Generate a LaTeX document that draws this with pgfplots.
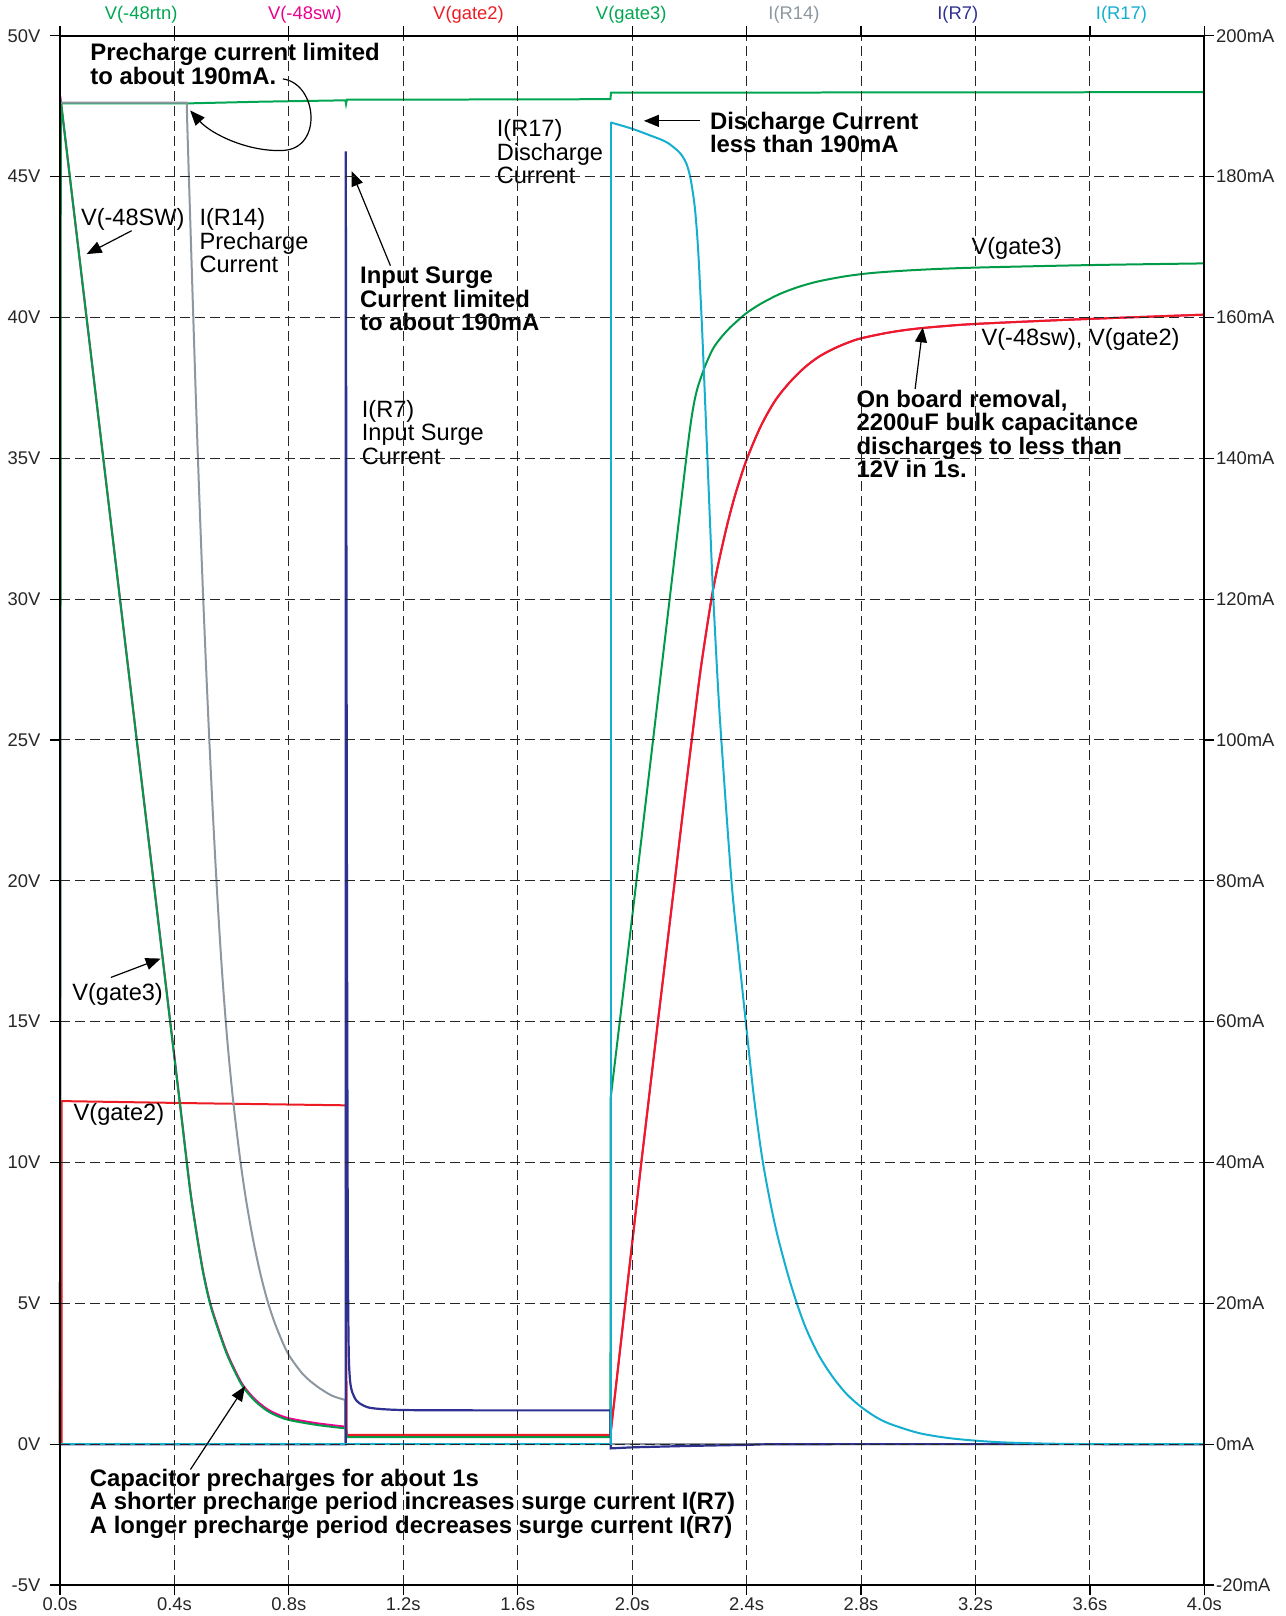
\documentclass[border=0pt]{standalone}
\usepackage{fontspec}
\setmainfont{Liberation Sans}
\usepackage{pgfplots}
\pgfplotsset{compat=1.18}
\usetikzlibrary{arrows.meta}
\definecolor{cRtn}{HTML}{00A651}
\definecolor{cSw}{HTML}{EC008C}
\definecolor{cG2}{HTML}{ED1C24}
\definecolor{cG3}{HTML}{009B48}
\definecolor{cR14}{HTML}{8E979F}
\definecolor{cR7}{HTML}{2E3192}
\definecolor{cR17}{HTML}{14AFCF}
\newcommand\ann{\fontsize{11.8}{11.75}\selectfont}
\newcommand\annb{\fontsize{11.95}{11.75}\selectfont\bfseries}
\newcommand\lab{\fontsize{9.2}{11}\selectfont}
\tikzset{arr/.style={-{Triangle[length=7.5pt,width=6pt]}, line width=0.6pt, black},
         txt/.style={anchor=base west, inner sep=0pt, text=black}}
\pgfplotsset{
  sw/.style={cSw, line width=1pt},
  g2/.style={cG2, line width=1pt},
  g3/.style={cG3, line width=1pt},
  r14/.style={cR14, line width=1pt, y filter/.expression={y/4}},
  r7/.style={cR7, line width=1.1pt, y filter/.expression={y/4}},
  r17/.style={cR17, line width=1pt, y filter/.expression={y/4}},
}
\begin{document}
\begin{tikzpicture}
\begin{axis}[
  scale only axis, width=572.5pt, height=775pt,
  xmin=0, xmax=4, ymin=-5, ymax=50,
  xtick={0,0.4,0.8,1.2,1.6,2.0,2.4,2.8,3.2,3.6,4.0},
  xticklabels={0.0s,0.4s,0.8s,1.2s,1.6s,2.0s,2.4s,2.8s,3.2s,3.6s,4.0s},
  ytick={-5,0,5,10,15,20,25,30,35,40,45,50},
  yticklabels={-5V,0V,5V,10V,15V,20V,25V,30V,35V,40V,45V,50V},
  xtick pos=both, xticklabel pos=lower, ytick pos=left,
  tick align=outside, major tick length=5pt,
  grid=major,
  major grid style={dash pattern=on 5pt off 2.5pt, line width=0.5pt, black!85},
  axis line style={line width=1pt, black},
  tick style={line width=0.6pt, black},
  tick label style={font=\lab, text=black!85},
  yticklabel style={xshift=-1.3pt},
  xticklabel style={inner sep=1pt},
  axis on top, clip=false,
]
% V(-48rtn)
\addplot[cRtn, line width=1pt] coordinates {
(0,0) (0.001,47.6) (0.445,47.6) (0.7,47.66) (0.998,47.71) (1.0,47.58) (1.003,47.73)
(1.5,47.74) (1.924,47.75) (1.926,47.98) (4.0,48.0)};
% V(-48sw)
\addplot[sw] coordinates {(0,0) (0.001,47.85) (0.43,11.2)};
\addplot[sw, smooth] coordinates {
(0.43,11.2) (0.455,9.05) (0.477,7.55) (0.50,6.16) (0.524,5.06) (0.55,4.21) (0.582,3.29)
(0.61,2.66) (0.64,2.09) (0.68,1.61) (0.722,1.26) (0.76,1.06) (0.804,0.91) (0.9,0.74) (0.999,0.62)};
\addplot[sw] coordinates {(0.999,0.62) (1.003,0.32) (1.924,0.32) (1.985,5.8) (2.032,10) (2.09,15) (2.149,20)};
\addplot[sw, smooth] coordinates {
(2.149,20) (2.178,22.5) (2.207,24.9) (2.24,27.55) (2.277,30) (2.30,31.2) (2.33,32.55)
(2.36,33.7) (2.40,34.95) (2.45,36.15) (2.50,37.05) (2.55,37.69) (2.60,38.2) (2.65,38.59)
(2.70,38.87) (2.75,39.09) (2.80,39.26) (2.90,39.47) (3.0,39.61) (3.15,39.74) (3.3,39.82)
(3.6,39.95) (4.0,40.1)};
% V(gate2)
\addplot[g2] coordinates {
(0,0) (0.006,0) (0.006,12.18) (0.5,12.1) (0.999,12.03) (1.002,0.33) (1.924,0.33)
(1.985,5.8) (2.032,10) (2.09,15) (2.149,20)};
\addplot[g2, smooth] coordinates {
(2.149,20) (2.178,22.5) (2.207,24.9) (2.24,27.55) (2.277,30) (2.30,31.2) (2.33,32.55)
(2.36,33.7) (2.40,34.95) (2.45,36.15) (2.50,37.05) (2.55,37.69) (2.60,38.2) (2.65,38.59)
(2.70,38.87) (2.75,39.09) (2.80,39.26) (2.90,39.47) (3.0,39.61) (3.15,39.74) (3.3,39.82)
(3.6,39.95) (4.0,40.1)};
% V(gate3)
\addplot[g3] coordinates {(0,0) (0.003,47.7) (0.43,11.15)};
\addplot[g3, smooth] coordinates {
(0.43,11.15) (0.455,9.0) (0.477,7.49) (0.50,6.1) (0.524,5.0) (0.55,4.15) (0.582,3.23)
(0.61,2.6) (0.64,2.03) (0.68,1.55) (0.722,1.2) (0.76,1.0) (0.804,0.85) (0.9,0.68) (0.999,0.56)};
\addplot[g3] coordinates {(0.999,0.56) (1.003,0.25) (1.924,0.25) (1.925,12.3) (2.015,20)
(2.073,25) (2.131,30) (2.189,35)};
\addplot[g3, smooth] coordinates {
(2.189,35) (2.2,35.9) (2.21,36.6) (2.22,37.15) (2.23,37.55) (2.245,38.0) (2.26,38.4)
(2.283,38.9) (2.31,39.28) (2.341,39.63) (2.37,39.9) (2.40,40.16) (2.45,40.49) (2.515,40.83)
(2.58,41.08) (2.65,41.28) (2.75,41.47) (2.85,41.59) (3.0,41.69) (3.2,41.77) (3.6,41.86) (4.0,41.92)};
% I(R14) in mA
\addplot[r14] coordinates {(0,0) (0.001,190.5) (0.443,190.5) (0.446,186)};
\addplot[r14, smooth] coordinates {
(0.446,186) (0.466,160) (0.478,145) (0.489,132.4) (0.50,120.8) (0.51,111) (0.52,101.8)
(0.53,93.2) (0.54,85.2) (0.55,77.8) (0.56,71.1) (0.57,65.1) (0.585,57.3) (0.605,48.9)
(0.629,40.7) (0.65,34.8) (0.675,29.05) (0.70,24.3) (0.725,20.4) (0.75,17.3) (0.78,14.3)
(0.804,12.4) (0.85,9.9) (0.897,8.25) (0.95,6.9) (0.996,6.3)};
\addplot[r14] coordinates {(0.996,6.3) (0.998,0) (4.0,0)};
% I(R7) in mA
\addplot[r7] coordinates {(0,0) (0.999,0) (0.999,183.6) (1.003,80)};
\addplot[r7, smooth] coordinates {
(1.003,80) (1.006,30) (1.009,14) (1.013,9.5) (1.02,7.6) (1.036,6.2) (1.06,5.5)
(1.094,5.1) (1.2,4.85) (1.5,4.8) (1.924,4.8)};
\addplot[r7] coordinates {(1.924,4.8) (1.925,-0.6) (2.0,-0.45)};
\addplot[r7, smooth] coordinates {(2.0,-0.45) (2.2,-0.25) (2.4,-0.1) (2.6,0) (4.0,0)};
% I(R17) in mA
\addplot[r17] coordinates {(0,0) (1.925,0) (1.925,187.7)};
\addplot[r17, smooth] coordinates {
(1.925,187.7) (2.0,186.8) (2.06,185.9) (2.12,184.9) (2.166,183.4) (2.19,181.8)
(2.205,179.5) (2.219,175.6) (2.23,170) (2.242,160.5) (2.252,151) (2.262,141) (2.272,131)
(2.282,121.5) (2.30,107.5) (2.315,98) (2.347,80) (2.37,70.5) (2.397,60) (2.425,49.5)
(2.457,40) (2.50,31) (2.55,23.3) (2.60,17.2) (2.65,12.8) (2.70,9.6) (2.75,7.1) (2.80,5.3)
(2.85,3.9) (2.90,2.9) (3.0,1.6) (3.1,0.9) (3.2,0.5) (3.3,0.25) (3.45,0.08) (3.6,0)};
\addplot[r17] coordinates {(3.6,0) (4.0,0)};

% top series names
\node[font=\lab, text=cRtn, yshift=10.3pt] at (rel axis cs:0.0709,1) {V(-48rtn)};
\node[font=\lab, text=cSw,  yshift=10.3pt] at (rel axis cs:0.2140,1) {V(-48sw)};
\node[font=\lab, text=cG2,  yshift=10.3pt] at (rel axis cs:0.3570,1) {V(gate2)};
\node[font=\lab, text=cRtn, yshift=10.3pt] at (rel axis cs:0.4992,1) {V(gate3)};
\node[font=\lab, text=cR14, yshift=10.3pt] at (rel axis cs:0.6414,1) {I(R14)};
\node[font=\lab, text=cR7,  yshift=10.3pt] at (rel axis cs:0.7845,1) {I(R7)};
\node[font=\lab, text=cR17, yshift=10.3pt] at (rel axis cs:0.9276,1) {I(R17)};

% annotations
\node[txt, font=\annb] at (axis cs:0.1048,49.11) {\vtop{\hbox{Precharge current limited}\hbox{to about 190mA.}}};
\draw[arr] (axis cs:0.779,48.47) .. controls (axis cs:0.90,48.3) and (axis cs:0.92,46.0) .. (axis cs:0.78,45.93)
   .. controls (axis cs:0.66,45.87) and (axis cs:0.53,46.5) .. (axis cs:0.455,47.35);
\node[txt, font=\ann] at (axis cs:0.0723,43.26) {V(-48SW)};
\draw[arr] (axis cs:0.2505,43.08) -- (axis cs:0.0932,42.25);
\node[txt, font=\ann] at (axis cs:0.4866,43.26) {\vtop{\hbox{I(R14)}\hbox{Precharge}\hbox{Current}}};
\node[txt, font=\annb] at (axis cs:1.048,41.19) {\vtop{\hbox{Input Surge}\hbox{Current limited}\hbox{to about 190mA}}};
\draw[arr] (axis cs:1.155,41.84) -- (axis cs:1.019,45.2);
\node[txt, font=\ann] at (axis cs:1.5256,46.42) {\vtop{\hbox{I(R17)}\hbox{Discharge}\hbox{Current}}};
\node[txt, font=\annb] at (axis cs:2.2707,46.69) {\vtop{\hbox{Discharge Current}\hbox{less than 190mA}}};
\draw[arr] (axis cs:2.236,46.98) -- (axis cs:2.041,46.98);
\node[txt, font=\ann] at (axis cs:3.185,42.25) {V(gate3)};
\node[txt, font=\ann] at (axis cs:3.22,39.0) {V(-48sw), V(gate2)};
\node[txt, font=\annb] at (axis cs:2.783,36.81) {\vtop{\hbox{On board removal,}\hbox{2200uF bulk capacitance}\hbox{discharges to less than}\hbox{12V in 1s.}}};
\draw[arr] (axis cs:2.989,37.46) -- (axis cs:3.016,39.65);
\node[txt, font=\ann] at (axis cs:1.054,36.46) {\vtop{\hbox{I(R7)}\hbox{Input Surge}\hbox{Current}}};
\node[txt, font=\ann] at (axis cs:0.042,15.76) {V(gate3)};
\draw[arr] (axis cs:0.178,16.57) -- (axis cs:0.352,17.24);
\node[txt, font=\ann] at (axis cs:0.0465,11.5) {V(gate2)};
\node[txt, font=\annb] at (axis cs:0.1034,-1.49) {\vtop{\hbox{Capacitor precharges for about 1s}\hbox{A shorter precharge period increases surge current I(R7)}\hbox{A longer precharge period decreases surge current I(R7)}}};
\draw[arr] (axis cs:0.456,-0.9) -- (axis cs:0.647,2.06);

% page extent
\path (rel axis cs:-0.0524,-0.0200) rectangle (rel axis cs:1.0707,1.02258);
\end{axis}
\begin{axis}[
  scale only axis, width=572.5pt, height=775pt,
  xmin=0, xmax=4, ymin=-20, ymax=200,
  hide x axis, axis y line*=right,
  ytick={-20,0,20,40,60,80,100,120,140,160,180,200},
  yticklabels={-20mA,0mA,20mA,40mA,60mA,80mA,100mA,120mA,140mA,160mA,180mA,200mA},
  tick align=outside, major tick length=5pt,
  axis line style={line width=1pt, black},
  tick style={line width=0.6pt, black},
  tick label style={font=\lab, text=black!85},
  yticklabel style={xshift=-2.6pt},
]
\addplot[draw=none] coordinates {(0,0)};
\end{axis}
\end{tikzpicture}
\end{document}
